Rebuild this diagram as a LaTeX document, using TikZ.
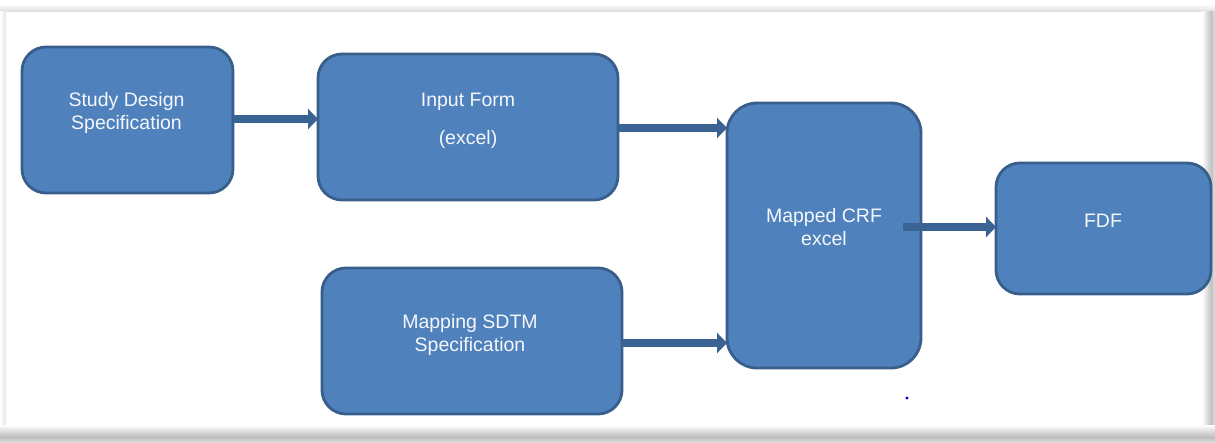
\documentclass[tikz,border=0pt]{standalone}
\usepackage{fontspec}
\setmainfont{Liberation Sans}
\usetikzlibrary{arrows.meta}
\definecolor{boxfill}{RGB}{79,129,189}
\definecolor{boxline}{RGB}{56,94,140}
\definecolor{arrcol}{RGB}{58,99,148}
\tikzset{
  box/.style={draw=boxline, line width=2.8pt, fill=boxfill, rounded corners=24pt},
  lbl/.style={text=white!94!boxfill, font=\fontsize{19.5}{23}\selectfont, align=center, inner sep=0pt},
  arr/.style={draw=arrcol, line width=7.5pt, -{Triangle[length=10pt,width=20pt]}},
}
\begin{document}
\begin{tikzpicture}[x=1pt,y=-1pt]
\useasboundingbox (0,0) rectangle (1215,442);
% page background and soft shadow frame
\fill[white] (0,0) rectangle (1215,442);
\shade[top color=white, bottom color=black!12] (0,4) rectangle (1215,11);
\shade[left color=white, right color=black!10] (0,11) rectangle (6,430);
\shade[left color=white, right color=black!24] (1202,11) rectangle (1211,430);
\shade[left color=black!24, right color=black!12] (1211,11) rectangle (1215,442);
\shade[top color=white, bottom color=black!26] (0,425) rectangle (1215,437);
\shade[top color=black!26, bottom color=black!14] (0,437) rectangle (1215,442);
% boxes
\path[box] (22,47) rectangle (233,193) node[midway] (study) {};
\path[box] (318,54) rectangle (618,200) node[midway] (input) {};
\path[box] (322,268) rectangle (622,414) node[midway] (mapping) {};
\path[box, rounded corners=30pt] (727,103) rectangle (921,368) node[midway] (mapped) {};
\path[box] (996,163) rectangle (1211,294) node[midway] (fdf) {};
% named geometry for connections
\coordinate (studyE) at (233,119);
\coordinate (inputW) at (318,119);
\coordinate (inputE) at (618,128);
\coordinate (mappedW1) at (727,128);
\coordinate (mappingE) at (622,343);
\coordinate (mappedW2) at (727,343);
\coordinate (mappedIn) at (903,227);
\coordinate (fdfW) at (996,227);
% labels
\node[lbl] (studyT) at (126.5,113) {Study Design\\Specification};
\node[lbl] (inputT1) at (468,102) {Input Form};
\node[lbl] (inputT2) at (468,139) {(excel)};
\node[lbl] (mappingT) at (470,335) {Mapping SDTM\\Specification};
\node[lbl] (mappedT) at (824,227) {Mapped CRF\\excel};
\node[lbl] (fdfT) at (1103,221) {FDF};
% arrows
\draw[arr] (studyE) -- (inputW);
\draw[arr] (inputE) -- (mappedW1);
\draw[arr] (mappingE) -- (mappedW2);
\draw[arr] (mappedIn) -- (fdfW);
% stray dot
\fill[blue!75!black] (907,398) circle (1.6pt);
\end{tikzpicture}
\end{document}
